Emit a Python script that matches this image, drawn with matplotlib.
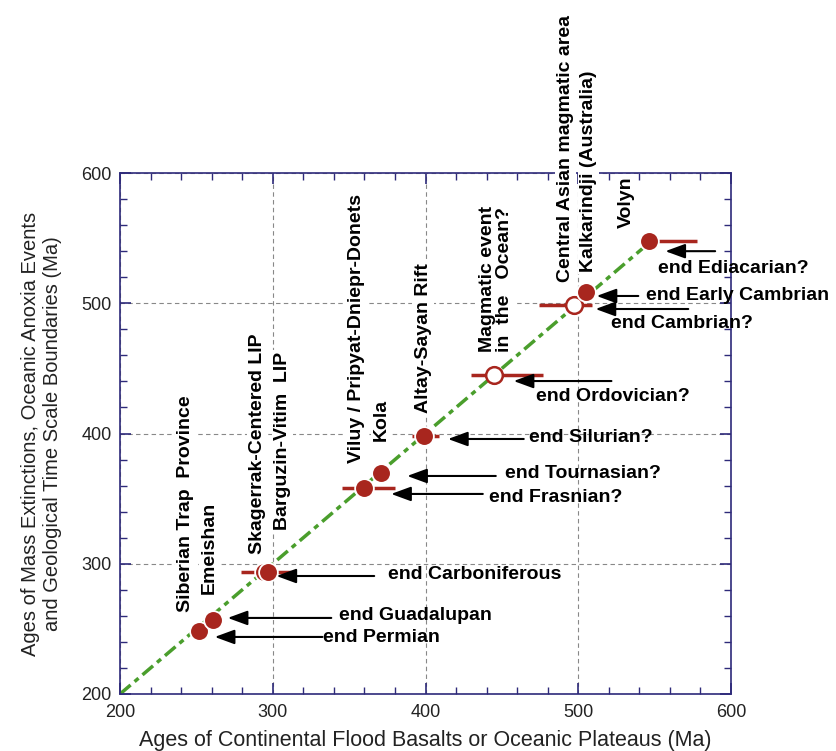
import matplotlib.pyplot as plt
from matplotlib.ticker import MultipleLocator

plt.rcParams['font.family'] = ['Liberation Sans', 'DejaVu Sans']

# flood basalt / plateau provinces: age of the province (x) and of the matching event (y), Ma
provinces = ['Siberian Trap  Province', 'Emeishan', 'Skagerrak-Centered LIP', 'Barguzin-Vitim  LIP',
             'Viluy / Pripyat-Dniepr-Donets', 'Kola', 'Altay-Sayan Rift', 'Magmatic event\nin  the   Ocean?',
             'Central Asian magmatic area', 'Kalkarindji (Australia)', 'Volyn']
basalt_age = [252, 261, 294, 297, 360, 371, 399, 445, 497, 505, 546]
event_age = [248, 257, 294, 294, 358, 370, 398, 445, 499, 509, 548]
age_err_lo = [0, 0, 15, 0, 15, 0, 8, 15, 23, 0, 0]
age_err_hi = [0, 0, 18, 0, 20, 0, 10, 32, 12, 0, 32]
uncertain = [False, False, False, False, False, False, False, True, True, False, False]

events = ['end Permian', 'end Guadalupan', 'end Carboniferous', 'end Frasnian?', 'end Tournasian?',
          'end Silurian?', 'end Ordovician?', 'end Cambrian?', 'end Early Cambrian', 'end Ediacarian?']

diag = [200, 548]

# where the rotated province names sit (x centre, lower end)
name_x = [243, 258.7, 290, 306.4, 354.6, 371, 398.4, 446, 491.7, 506.7, 531.5]
name_y = [262.9, 276.8, 307.5, 325.8, 377.7, 394.5, 416, 462.6, 516.3, 523.8, 557.8]

# event arrows: tip, tail and label anchor
arr_tip_x = [262, 270.5, 302.4, 377.5, 388, 414.7, 457.7, 511.3, 512, 557]
arr_y = [243.8, 258.4, 290.6, 353.6, 367.4, 395.8, 440.3, 495.6, 505.6, 540]
arr_tail_x = [332.5, 338.3, 366.4, 437.5, 446, 464.3, 521.7, 572, 539.3, 589.6]
ev_x = [333, 343.6, 375.5, 441.4, 452, 467.5, 472, 521.7, 544.5, 552.4]
ev_y = [243, 260, 292, 351, 369, 397.3, 428.8, 484.8, 505.6, 527]

red = '#a8261e'
navy = '#2e2a7a'

fig = plt.figure(figsize=(8.37, 7.51), dpi=100)
ax = fig.add_axes([0.1434, 0.0759, 0.730, 0.6937])

ax.plot(diag, diag, color='#4a9e2c', lw=2.5, dashes=(4, 1.5, 1.5, 1.5), zorder=2)

ax.errorbar(basalt_age, event_age, xerr=[age_err_lo, age_err_hi], fmt='none',
            ecolor=red, elinewidth=2.5, capsize=0, zorder=3)

for x, y, open_pt in zip(basalt_age, event_age, uncertain):
    if open_pt:
        ax.plot(x, y, 'o', ms=12, mfc='white', mec=red, mew=1.8, zorder=4)
    else:
        ax.plot(x, y, 'o', ms=13.5, mfc=red, mec='white', mew=1.3, zorder=4)

for name, x, y in zip(provinces, name_x, name_y):
    ax.text(x, y, name, rotation=90, ha='center', va='bottom', fontsize=14, fontweight='bold',
            multialignment='left', linespacing=1.0,
            bbox=dict(fc='white', ec='none', pad=1.5), zorder=6, clip_on=False)

for ev, tx, ty, tl, ex, ey in zip(events, arr_tip_x, arr_y, arr_tail_x, ev_x, ev_y):
    ax.annotate('', xy=(tx, ty), xytext=(tl, ty),
                arrowprops=dict(arrowstyle='-|>,head_length=0.6,head_width=0.22', color='black',
                                lw=1.5, shrinkA=0, shrinkB=0, mutation_scale=20), zorder=5)
    ax.text(ex, ey, ev, ha='left', va='center', fontsize=14, fontweight='bold', zorder=5)

ax.set_xlim(200, 600)
ax.set_ylim(200, 600)
ax.xaxis.set_major_locator(MultipleLocator(100))
ax.yaxis.set_major_locator(MultipleLocator(100))
ax.xaxis.set_minor_locator(MultipleLocator(20))
ax.yaxis.set_minor_locator(MultipleLocator(20))
for sp in ax.spines.values():
    sp.set_color(navy)
    sp.set_linewidth(1.2)
ax.tick_params(which='both', direction='in', top=True, right=True, color=navy,
               labelsize=13, labelcolor='#222222')
ax.tick_params(which='major', length=8, width=1.2)
ax.tick_params(which='minor', length=5, width=1.0)
ax.tick_params(axis='x', which='major', pad=7.5)
ax.tick_params(axis='y', which='major', pad=6)
ax.grid(True, which='major', color='#888888', linestyle=(0, (4, 3)), linewidth=0.8)
ax.set_axisbelow(True)

ax.set_xlabel('Ages of Continental Flood Basalts or Oceanic Plateaus (Ma)', fontsize=15.5,
              color='#222222', labelpad=6)
ax.set_ylabel('Ages of Mass Extinctions, Oceanic Anoxia Events\nand Geological Time Scale Boundaries (Ma)',
              fontsize=14.5, color='#222222', labelpad=14)

plt.savefig('out.png', dpi=100)
